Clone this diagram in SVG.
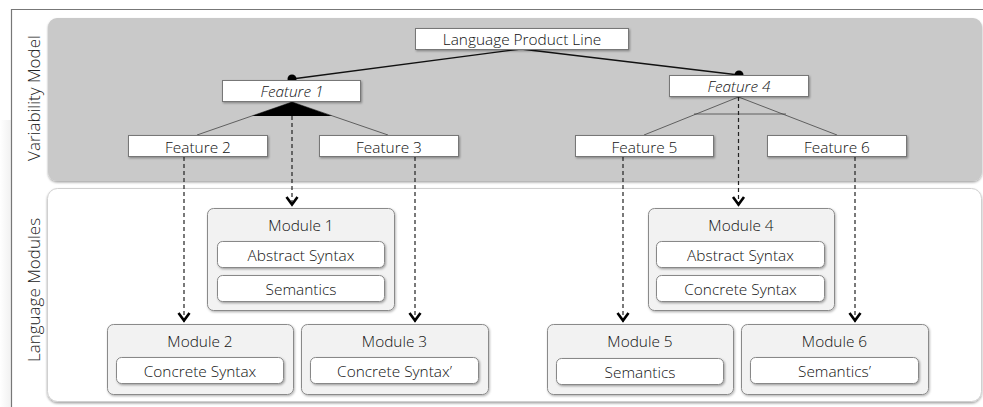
<svg xmlns="http://www.w3.org/2000/svg" width="983" height="407" viewBox="0 0 983 407">
<defs>
<style>
text{font-family:"Open Sans",Lato,"Liberation Sans",sans-serif;font-weight:300;fill:#111}
.lbl{font-size:17px;text-anchor:middle;fill:#222}
.ft{font-size:15.4px;text-anchor:middle}
.it{font-style:italic}
.feat{fill:#fff;stroke:#777;stroke-width:1;filter:url(#sh)}
.mod{fill:#f2f2f2;stroke:#8a8a8a;stroke-width:1;filter:url(#sh2)}
.inner{fill:#fff;stroke:#888;stroke-width:1;filter:url(#sh)}
.tree{stroke:#111;stroke-width:1.3;fill:none}
.sub{stroke:#444;stroke-width:0.8;fill:none}
.dash{stroke:#222;stroke-width:1.2;stroke-dasharray:4 3;fill:none;marker-end:url(#arr)}
</style>
<filter id="sh" x="-10%" y="-30%" width="125%" height="180%"><feDropShadow dx="1" dy="1.2" stdDeviation="0.8" flood-color="#000" flood-opacity="0.35"/></filter>
<filter id="sh2" x="-10%" y="-10%" width="125%" height="130%"><feDropShadow dx="0.8" dy="1.2" stdDeviation="1" flood-color="#000" flood-opacity="0.3"/></filter>
<filter id="sh3" x="-5%" y="-5%" width="110%" height="115%"><feDropShadow dx="0" dy="1.5" stdDeviation="1.2" flood-color="#000" flood-opacity="0.35"/></filter>
<marker id="arr" markerUnits="userSpaceOnUse" markerWidth="16" markerHeight="16" refX="0" refY="0" orient="auto" overflow="visible">
<path d="M-9,-5.5 L-1.5,0 L-9,5.5" fill="none" stroke="#000" stroke-width="2.6"/>
</marker>
<linearGradient id="lg" x1="0" y1="0" x2="1" y2="0"><stop offset="0" stop-color="#fff"/><stop offset="1" stop-color="#d0d0d0"/></linearGradient>
</defs>
<rect width="983" height="407" fill="#fff"/>
<g id="frame">
<rect x="0" y="120" width="11" height="287" fill="url(#lg)" opacity="0.3"/>
<path d="M11.5,407 V9.5 H983" fill="none" stroke="#777" stroke-width="1.2"/>
</g>
<g id="panel-variability">
<rect x="48" y="18" width="934" height="163" rx="9" fill="#c9c9c9" filter="url(#sh3)"/>
<text class="lbl" transform="translate(39.5,98) rotate(-90)">Variability Model</text>
</g>
<g id="panel-modules">
<rect x="47.5" y="188.5" width="934" height="213" rx="10" fill="#fff" stroke="#d0d0d0" stroke-width="1" filter="url(#sh3)"/>
<text class="lbl" transform="translate(39.5,290) rotate(-90)">Language Modules</text>
</g>
<g id="connectors">
<path class="tree" d="M292,79 L521,49 L739,75"/>
<path class="sub" d="M197,135 L292,102 L388,135"/>
<polygon points="292,102 252,116 332,116" fill="#000"/>
<path class="sub" d="M644,135 L738.5,97 L837,135 M694,114 H786"/>
<circle cx="292" cy="79" r="4.5" fill="#000"/>
<circle cx="739" cy="75" r="4.5" fill="#000"/>
<path class="dash" d="M292,116 V206"/>
<path class="dash" d="M738.5,97 V206"/>
<path class="dash" d="M184,157 V322"/>
<path class="dash" d="M415,157 V322"/>
<path class="dash" d="M623,157 V322"/>
<path class="dash" d="M855,157 V322"/>
</g>
<g id="lpl"><rect class="feat" x="415.5" y="28.5" width="213" height="21"/><text class="ft" x="522" y="45">Language Product Line</text></g>
<g id="feature1"><rect class="feat" x="222.5" y="80.5" width="138" height="21"/><text class="ft it" x="292" y="97">Feature 1</text></g>
<g id="feature4"><rect class="feat" x="669.5" y="75.5" width="139" height="21"/><text class="ft it" x="739" y="92">Feature 4</text></g>
<g id="feature2"><rect class="feat" x="128.5" y="135.5" width="139" height="21"/><text class="ft" x="198" y="152.5">Feature 2</text></g>
<g id="feature3"><rect class="feat" x="319.5" y="135.5" width="139" height="21"/><text class="ft" x="389" y="152.5">Feature 3</text></g>
<g id="feature5"><rect class="feat" x="575.5" y="135.5" width="138" height="21"/><text class="ft" x="644.5" y="152.5">Feature 5</text></g>
<g id="feature6"><rect class="feat" x="767.5" y="135.5" width="139" height="21"/><text class="ft" x="837" y="152.5">Feature 6</text></g>
<g id="module1">
<rect class="mod" x="207.5" y="208.5" width="187" height="102" rx="6"/>
<text class="ft" x="301" y="230.5">Module 1</text>
<rect class="inner" x="217.5" y="241.5" width="167" height="26" rx="5"/><text class="ft" x="301" y="260.5">Abstract Syntax</text>
<rect class="inner" x="217.5" y="275.5" width="167" height="26" rx="5"/><text class="ft" x="301" y="294.5">Semantics</text>
</g>
<g id="module4">
<rect class="mod" x="648.5" y="208.5" width="186" height="102" rx="6"/>
<text class="ft" x="741" y="230.5">Module 4</text>
<rect class="inner" x="656.5" y="241.5" width="168" height="26" rx="5"/><text class="ft" x="740.5" y="260.5">Abstract Syntax</text>
<rect class="inner" x="656.5" y="275.5" width="168" height="26" rx="5"/><text class="ft" x="740.5" y="294.5">Concrete Syntax</text>
</g>
<g id="module2">
<rect class="mod" x="107.5" y="324.5" width="186" height="70" rx="6"/>
<text class="ft" x="200" y="346.5">Module 2</text>
<rect class="inner" x="116.5" y="357.5" width="167" height="26" rx="5"/><text class="ft" x="200" y="376.5">Concrete Syntax</text>
</g>
<g id="module3">
<rect class="mod" x="301.5" y="324.5" width="187" height="70" rx="6"/>
<text class="ft" x="394.5" y="346.5">Module 3</text>
<rect class="inner" x="310.5" y="357.5" width="168" height="26" rx="5"/><text class="ft" x="394.5" y="376.5">Concrete Syntax’</text>
</g>
<g id="module5">
<rect class="mod" x="547.5" y="324.5" width="186" height="70" rx="6"/>
<text class="ft" x="640" y="346.5">Module 5</text>
<rect class="inner" x="556.5" y="358.5" width="167" height="26" rx="5"/><text class="ft" x="640" y="377.5">Semantics</text>
</g>
<g id="module6">
<rect class="mod" x="741.5" y="324.5" width="187" height="70" rx="6"/>
<text class="ft" x="834.5" y="346.5">Module 6</text>
<rect class="inner" x="750.5" y="357.5" width="168" height="26" rx="5"/><text class="ft" x="834.5" y="376.5">Semantics’</text>
</g>
</svg>
